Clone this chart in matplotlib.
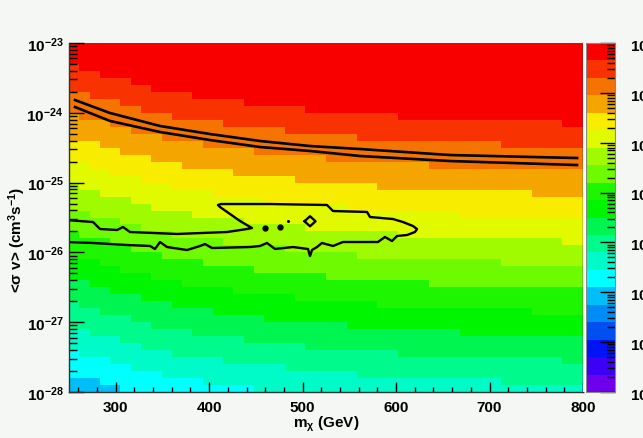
import numpy as np
import matplotlib
matplotlib.use('Agg')
import matplotlib.pyplot as plt
from matplotlib.colors import ListedColormap, LogNorm
from matplotlib.patches import Rectangle
from matplotlib.ticker import FixedLocator, LogLocator, MultipleLocator, NullFormatter

plt.rcParams['font.family'] = ['Liberation Sans', 'DejaVu Sans']
plt.rcParams['font.weight'] = 'bold'
plt.rcParams['mathtext.fontset'] = 'custom'
plt.rcParams['mathtext.rm'] = 'Liberation Sans:bold'
plt.rcParams['mathtext.it'] = 'Liberation Sans:bold'
plt.rcParams['mathtext.bf'] = 'Liberation Sans:bold'

# histogram binning (50 x 50 bins)
mass_edges = np.linspace(250, 800, 51)
logsv_edges = np.linspace(-28, -23, 51)

# lower edge of the top (red) colour band
mass_ref = [250, 283, 316, 338, 382, 437, 503, 602, 778, 800]
red_edge = [-23.32, -23.45, -23.55, -23.65, -23.75, -23.85, -23.95, -24.05, -24.15, -24.16]
band_step = 0.34      # decades of <sigma v> per colour band
z_low_exp = -4        # colour scale: 10^-4 ... 10^3, 20 bands

# palette, bottom to top
palette = ['#6e00eb', '#3c00f5', '#0014f5', '#0050f0', '#008cf5', '#00bef8',
           '#00ffff', '#00fac8', '#00fa8c', '#00f550', '#00f500', '#1ef500',
           '#6efa00', '#a0fa00', '#e1fa00', '#f8ec00', '#f5a500', '#f57300',
           '#f83200', '#f80000']

y_ticks = [1e-28, 1e-27, 1e-26, 1e-25, 1e-24, 1e-23]
z_ticks = [1e-4, 1e-3, 1e-2, 1e-1, 1e0, 1e1, 1e2, 1e3]

# limit curves
upper_m = [256.4, 293.9, 347.4, 400.9, 454.4, 507.9, 561.4, 657.7, 793.6]
upper_s = [-23.817, -24.003, -24.189, -24.304, -24.404, -24.476, -24.519, -24.605, -24.648]
lower_m = [256.4, 293.9, 347.4, 400.9, 454.4, 507.9, 561.4, 657.7, 793.6]
lower_s = [-23.917, -24.117, -24.275, -24.390, -24.490, -24.547, -24.619, -24.691, -24.748]

# closed region
island_m = [246.8, 275.7, 283.2, 301.4, 307.8, 315.3, 365.6, 419.1, 440.5, 445.8,
            433.0, 422.3, 411.6, 409.4, 412.6, 465.1, 526.1, 532.5, 568.9, 572.1,
            596.7, 607.4, 618.1, 622.4, 620.2, 611.7, 601.0, 595.6, 588.1, 580.6,
            543.2, 532.5, 520.7, 515.4, 510.0, 507.9, 505.7, 489.7, 470.4, 461.9,
            454.4, 443.7, 403.0, 395.5, 390.2, 376.3, 354.9, 347.4, 342.0, 336.7,
            312.1, 275.7, 246.8]
island_s = [-25.536, -25.565, -25.665, -25.679, -25.636, -25.708, -25.736, -25.708, -25.665, -25.651,
            -25.550, -25.450, -25.350, -25.321, -25.307, -25.307, -25.321, -25.407, -25.421, -25.493,
            -25.522, -25.565, -25.622, -25.665, -25.708, -25.751, -25.765, -25.837, -25.779, -25.851,
            -25.851, -25.908, -25.865, -25.923, -25.966, -26.052, -25.951, -25.923, -25.951, -25.865,
            -25.908, -25.923, -25.937, -25.880, -25.908, -25.966, -25.923, -25.851, -25.951, -25.908,
            -25.894, -25.865, -25.851]
diamond_m = [502.0, 507.9, 513.8, 507.9, 502.0]
diamond_s = [-25.554, -25.482, -25.554, -25.626, -25.554]
dots_m = [459.7, 475.8]
dots_s = [-25.651, -25.643]
speck_m = [484.3]
speck_s = [-25.55]

# build the 2D histogram
m_c = 0.5 * (mass_edges[1:] + mass_edges[:-1])
s_c = 0.5 * (logsv_edges[1:] + logsv_edges[:-1])
edge_c = np.interp(m_c, mass_ref, red_edge)
level = 19 + (s_c[:, None] - edge_c[None, :]) / band_step
z = 10 ** (z_low_exp + 0.35 * level)

cmap = ListedColormap(palette)
cmap.set_over(palette[-1])
norm = LogNorm(10.0 ** z_low_exp, 10.0 ** (z_low_exp + 7))

W, H = 643, 439
fig = plt.figure(figsize=(W / 100, H / 100), dpi=100, facecolor='#f5f7f5')
# white strip between the frame and the palette
fig.patches.append(Rectangle((583 / W, 1 - 393 / H), 3 / W, 349 / H,
                             transform=fig.transFigure, facecolor='white',
                             edgecolor='none', zorder=0))
ax = fig.add_axes([69 / W, 1 - 393 / H, 514 / W, 349 / H])
cax = fig.add_axes([586 / W, 1 - 393 / H, 29 / W, 349 / H])

mesh = ax.pcolormesh(mass_edges, 10.0 ** logsv_edges, z, cmap=cmap, norm=norm,
                     shading='flat', edgecolors='none')

ax.plot(upper_m, 10.0 ** np.array(upper_s), color='black', lw=1.9)
ax.plot(lower_m, 10.0 ** np.array(lower_s), color='black', lw=1.9)
ax.plot(island_m, 10.0 ** np.array(island_s), color='black', lw=1.7)
ax.plot(diamond_m, 10.0 ** np.array(diamond_s), color='black', lw=1.7)
ax.plot(dots_m, 10.0 ** np.array(dots_s), 'o', color='black', ms=3.5)
ax.plot(speck_m, 10.0 ** np.array(speck_s), 'o', color='black', ms=1.2)

ax.set_yscale('log')
ax.set_xlim(250, 800)
ax.set_ylim(1e-28, 1e-23)
ax.xaxis.set_major_locator(MultipleLocator(100))
ax.xaxis.set_minor_locator(MultipleLocator(20))
ax.yaxis.set_major_locator(FixedLocator(y_ticks))
ax.yaxis.set_minor_locator(LogLocator(base=10, subs=np.arange(2, 10), numticks=20))
ax.yaxis.set_minor_formatter(NullFormatter())
ax.tick_params(axis='y', which='major', direction='in', length=10.8, width=1, labelsize=11, pad=4)
ax.tick_params(axis='y', which='minor', direction='in', length=5.8, width=1)
ax.tick_params(axis='x', which='major', direction='in', length=7.2, width=1, labelsize=11, pad=6)
ax.tick_params(axis='x', which='minor', direction='in', length=3.6, width=1)
ax.spines['top'].set_visible(False)
for side in ['left', 'bottom', 'right']:
    ax.spines[side].set_color('#333333')
    ax.spines[side].set_linewidth(1)

ax.set_xlabel(r'm$_{\chi}$ (GeV)', fontsize=11, fontweight='bold')
ax.xaxis.set_label_coords(0.5, -0.062)
ax.set_ylabel(r'<$\sigma$ v> (cm$^{3}$s$^{-1}$)', fontsize=11, fontweight='bold')
ax.yaxis.set_label_coords(-0.079, 0.44)

cb = fig.colorbar(mesh, cax=cax, extend='neither')
cb.set_ticks(z_ticks)
cb.outline.set_edgecolor('#888888')
cax.yaxis.set_minor_formatter(NullFormatter())
cax.tick_params(which='major', direction='in', length=10.8, width=1, labelsize=11, pad=11)
cax.tick_params(which='minor', direction='in', length=5.8, width=1)

fig.savefig('out.png', dpi=100, facecolor=fig.get_facecolor())
